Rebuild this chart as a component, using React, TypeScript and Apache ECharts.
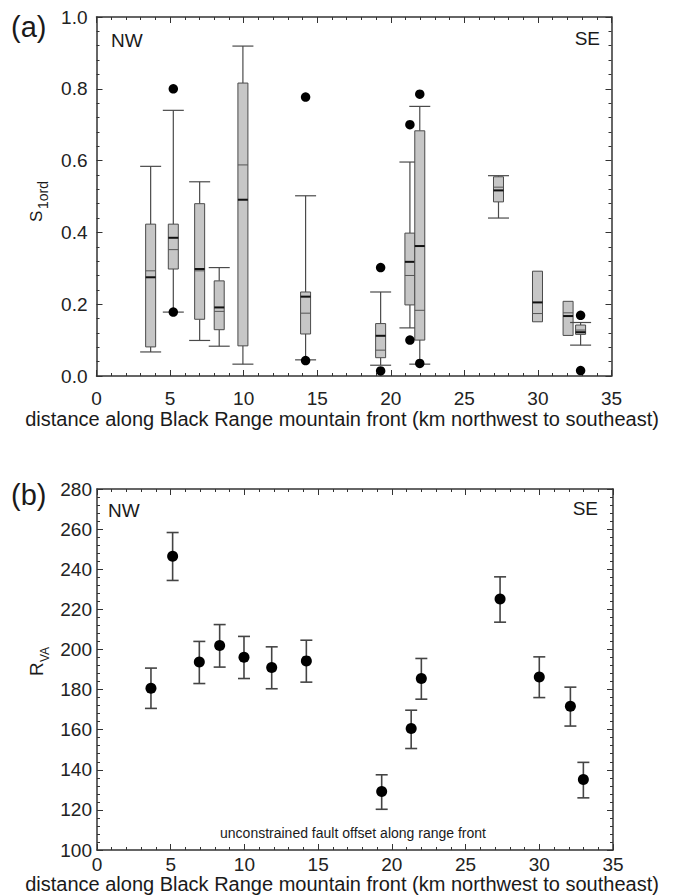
import React, { useEffect, useRef } from "react";
import * as echarts from "echarts";

// ---- Panel (a): box plots of S1ord ----
const boxPositions = [3.68, 5.22, 7.01, 8.34, 9.95, 14.21, 19.31, 21.3, 21.97, 27.32, 29.97, 32.05, 32.9];
const whiskerLow: (number | null)[] = [0.067, 0.178, 0.099, 0.083, 0.033, 0.045, 0.03, 0.134, 0.033, 0.44, null, null, 0.086];
const q1 = [0.081, 0.298, 0.158, 0.129, 0.084, 0.117, 0.051, 0.198, 0.1, 0.485, 0.151, 0.113, 0.116];
const medians = [0.275, 0.385, 0.298, 0.191, 0.491, 0.221, 0.112, 0.318, 0.362, 0.517, 0.205, 0.167, 0.122];
const means = [0.293, 0.352, 0.293, 0.18, 0.588, 0.175, 0.072, 0.28, 0.183, 0.526, 0.174, 0.176, 0.128];
const q3 = [0.423, 0.423, 0.48, 0.265, 0.816, 0.234, 0.146, 0.398, 0.683, 0.555, 0.292, 0.208, 0.142];
const whiskerHigh: (number | null)[] = [0.584, 0.74, 0.541, 0.302, 0.919, 0.502, 0.234, 0.596, 0.751, 0.558, null, null, 0.149];
const outlierX = [5.22, 5.22, 14.21, 14.21, 19.31, 19.31, 21.3, 21.3, 21.97, 21.97, 32.9, 32.9];
const outlierY = [0.8, 0.178, 0.777, 0.043, 0.302, 0.014, 0.7, 0.1, 0.785, 0.035, 0.169, 0.015];

// ---- Panel (b): R_VA with error bars ----
const rvaX = [3.66, 5.13, 6.94, 8.32, 9.97, 11.85, 14.2, 19.31, 21.31, 22.0, 27.34, 30.0, 32.11, 32.99];
const rvaY = [180.7, 246.5, 193.7, 202, 196.1, 191, 194.3, 129.2, 160.6, 185.5, 225.2, 186.3, 171.7, 135.2];
const rvaLow = [170.6, 234.4, 183, 191.2, 185.5, 180.4, 183.7, 120.3, 150.6, 175.2, 213.6, 176, 161.8, 126];
const rvaHigh = [190.7, 258.3, 204, 212.4, 206.5, 201.3, 204.6, 137.5, 169.7, 195.5, 236.2, 196.3, 181.2, 143.7];

const xTitle = "distance along Black Range mountain front (km northwest to southeast)";
const FONT = "'Liberation Sans', Arial, Helvetica, sans-serif";
const AX = "#333";

function xAxisPair(gridIndex: number, labelMargin: number) {
  const common = {
    gridIndex,
    type: "value" as const,
    min: 0,
    max: 35,
    interval: 5,
    splitLine: { show: false },
    axisLine: { show: true, onZero: false, lineStyle: { color: AX, width: 1.5 } },
    axisTick: { show: true, inside: true, length: 6, lineStyle: { color: AX, width: 1 } },
    minorTick: { show: true, splitNumber: 5, length: 3, lineStyle: { color: AX, width: 1 } },
    minorSplitLine: { show: false },
  };
  return [
    {
      ...common,
      position: "bottom",
      axisLabel: { show: true, margin: labelMargin, fontSize: 19, fontFamily: FONT, color: "#222" },
    },
    { ...common, position: "top", axisLabel: { show: false } },
  ];
}

function yAxisPair(gridIndex: number, min: number, max: number, interval: number, labelMargin: number, fmt: (v: number) => string) {
  const common = {
    gridIndex,
    type: "value" as const,
    min,
    max,
    interval,
    splitLine: { show: false },
    axisLine: { show: true, onZero: false, lineStyle: { color: AX, width: 1.5 } },
    axisTick: { show: true, inside: true, length: 6, lineStyle: { color: AX, width: 1 } },
    minorTick: { show: true, splitNumber: 5, length: 3, lineStyle: { color: AX, width: 1 } },
    minorSplitLine: { show: false },
  };
  return [
    {
      ...common,
      position: "left",
      axisLabel: { show: true, margin: labelMargin, fontSize: 19, fontFamily: FONT, color: "#222", formatter: fmt },
    },
    { ...common, position: "right", axisLabel: { show: false } },
  ];
}

function txt(text: string, x: number, y: number, fontSize: number, align = "left", extra: any = {}) {
  return {
    type: "text",
    x,
    y,
    silent: true,
    style: { text, fontSize, fontFamily: FONT, fill: "#1a1a1a", align, verticalAlign: "middle", ...extra },
  };
}

export default function App() {
  const ref = useRef<HTMLDivElement>(null);

  useEffect(() => {
    if (!ref.current) return;
    const chart = echarts.init(ref.current, undefined, { renderer: "svg" });

    const option: any = {
      animation: false,
      backgroundColor: "#ffffff",
      grid: [
        { left: 96.5, top: 17, width: 515, height: 359, containLabel: false },
        { left: 97, top: 489, width: 516, height: 361, containLabel: false },
      ],
      xAxis: [...xAxisPair(0, 13), ...xAxisPair(1, 5)],
      yAxis: [
        ...yAxisPair(0, 0, 1, 0.2, 9, (v: number) => v.toFixed(1)),
        ...yAxisPair(1, 100, 280, 20, 5, (v: number) => String(Math.round(v))),
      ],
      series: [
        {
          type: "custom",
          xAxisIndex: 0,
          yAxisIndex: 0,
          encode: { x: 0, y: [1, 2] },
          data: boxPositions.map((p, i) => [p, q1[i], q3[i]]),
          renderItem: (params: any, api: any) => {
            const i = params.dataIndex;
            const xv = api.value(0);
            const pt = (v: number) => api.coord([xv, v]);
            const cx = pt(q1[i])[0];
            const yq1 = pt(q1[i])[1];
            const yq3 = pt(q3[i])[1];
            const hw = 5;
            const cw = 10.5;
            const wStyle = { stroke: "#4a4a4a", lineWidth: 1.2 };
            const children: any[] = [];
            const wl = whiskerLow[i];
            const wh = whiskerHigh[i];
            if (wl != null) {
              const y = pt(wl)[1];
              children.push({ type: "line", shape: { x1: cx, y1: y, x2: cx, y2: yq1 }, style: wStyle });
              children.push({ type: "line", shape: { x1: cx - cw, y1: y, x2: cx + cw, y2: y }, style: wStyle });
            }
            if (wh != null) {
              const y = pt(wh)[1];
              children.push({ type: "line", shape: { x1: cx, y1: y, x2: cx, y2: yq3 }, style: wStyle });
              children.push({ type: "line", shape: { x1: cx - cw, y1: y, x2: cx + cw, y2: y }, style: wStyle });
            }
            children.push({
              type: "rect",
              shape: { x: cx - hw, y: yq3, width: hw * 2, height: yq1 - yq3 },
              style: { fill: "#c6c6c6", stroke: "#4a4a4a", lineWidth: 1 },
            });
            const ym = pt(means[i])[1];
            children.push({ type: "line", shape: { x1: cx - hw, y1: ym, x2: cx + hw, y2: ym }, style: { stroke: "#555", lineWidth: 1 } });
            const yd = pt(medians[i])[1];
            children.push({ type: "line", shape: { x1: cx - hw, y1: yd, x2: cx + hw, y2: yd }, style: { stroke: "#111", lineWidth: 2 } });
            return { type: "group", children };
          },
          z: 2,
        },
        {
          type: "scatter",
          xAxisIndex: 0,
          yAxisIndex: 0,
          symbol: "circle",
          symbolSize: 9.5,
          itemStyle: { color: "#000", opacity: 1 },
          data: outlierX.map((x, i) => [x, outlierY[i]]),
          z: 3,
        },
        {
          type: "custom",
          xAxisIndex: 2,
          yAxisIndex: 2,
          encode: { x: 0, y: [1, 2] },
          data: rvaX.map((x, i) => [x, rvaLow[i], rvaHigh[i]]),
          renderItem: (params: any, api: any) => {
            const lo = api.coord([api.value(0), api.value(1)]);
            const hi = api.coord([api.value(0), api.value(2)]);
            const cw = 6;
            const st = { stroke: "#444", lineWidth: 1.6 };
            return {
              type: "group",
              children: [
                { type: "line", shape: { x1: lo[0], y1: lo[1], x2: hi[0], y2: hi[1] }, style: st },
                { type: "line", shape: { x1: lo[0] - cw, y1: lo[1], x2: lo[0] + cw, y2: lo[1] }, style: st },
                { type: "line", shape: { x1: hi[0] - cw, y1: hi[1], x2: hi[0] + cw, y2: hi[1] }, style: st },
              ],
            };
          },
          z: 2,
        },
        {
          type: "scatter",
          xAxisIndex: 2,
          yAxisIndex: 2,
          symbol: "circle",
          symbolSize: 11,
          itemStyle: { color: "#000", opacity: 1 },
          data: rvaX.map((x, i) => [x, rvaY[i]]),
          z: 3,
        },
      ],
      graphic: [
        txt("(a)", 11, 27, 29),
        txt("(b)", 11, 495, 29),
        txt("NW", 111, 40, 19),
        txt("SE", 600, 38, 19, "right"),
        txt("NW", 108, 510, 19),
        txt("SE", 598, 508, 19, "right"),
        txt(xTitle, 342, 419, 20, "center"),
        txt(xTitle, 342, 884, 20, "center"),
        txt("unconstrained fault offset along range front", 353, 833, 14, "center"),
        {
          type: "group",
          x: 36,
          y: 222,
          rotation: Math.PI / 2,
          silent: true,
          children: [
            txt("S", 0, 0, 17),
            txt("1ord", 13, 6.5, 14),
          ],
        },
        {
          type: "group",
          x: 36,
          y: 676,
          rotation: Math.PI / 2,
          silent: true,
          children: [
            txt("R", 0, 0, 19),
            txt("VA", 14, 9, 12),
          ],
        },
      ],
    };

    chart.setOption(option);
    return () => {
      chart.dispose();
    };
  }, []);

  return (
    <div
      ref={ref}
      style={{ position: "absolute", left: 0, top: 0, width: 677, height: 896, background: "#fff" }}
    />
  );
}
